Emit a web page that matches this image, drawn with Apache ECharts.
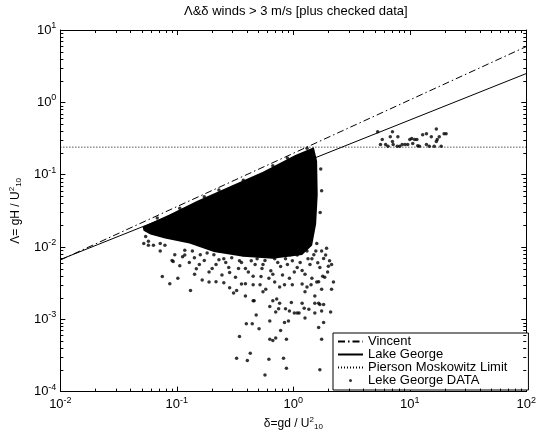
<!DOCTYPE html>
<html>
<head>
<meta charset="UTF-8">
<title>Λ&δ winds &gt; 3 m/s</title>
<script src="https://cdn.jsdelivr.net/npm/echarts@6/dist/echarts.min.js"></script>
<style>
  html, body { margin: 0; padding: 0; background: #fff; }
  #container { width: 539px; height: 436px; }
</style>
</head>
<body>
<div id="container"></div>
<script>
// reference lines (delta, lambda)
var vincentLine = [[0.01, 0.0066], [100, 5.9]];
var lakeGeorgeLine = [[0.01, 0.0067], [100, 2.5]];
var pmLimit = [[0.01, 0.24], [100, 0.24]];

// outline of the solid black part of the data cloud
var cloudCore = [
  [0.0508, 0.019], [0.0873, 0.0284], [0.150, 0.0437], [0.290, 0.0695], [0.549, 0.110],
  [1.04, 0.187], [1.50, 0.239], [1.60, 0.155], [1.62, 0.0526], [1.57, 0.0208],
  [1.45, 0.0105], [1.19, 0.00776], [0.667, 0.00686], [0.372, 0.0073], [0.208, 0.0085],
  [0.1285, 0.0112], [0.0792, 0.0131], [0.0593, 0.0149], [0.0518, 0.0168]
];

// scattered points under the cloud
var lowPoints = [
  [0.075, 0.0039], [0.087, 0.0031], [0.093, 0.0063], [0.102, 0.0037], [0.131, 0.0025],
  [0.165, 0.0035], [0.307, 0.0023], [0.388, 0.0021], [0.452, 0.0018], [0.48, 0.00115],
  [0.395, 0.00087], [0.444, 0.00087], [0.508, 0.00074], [0.345, 0.00058], [0.628, 0.00095],
  [0.628, 0.00053], [0.667, 0.00051], [0.706, 0.00055], [0.873, 0.00053], [0.84, 0.0009],
  [0.908, 0.00095], [0.778, 0.0007], [0.628, 0.0015], [0.667, 0.0018], [0.72, 0.0019],
  [0.748, 0.0014], [0.706, 0.00126], [0.962, 0.0017], [0.926, 0.0013], [1.02, 0.00122],
  [1.08, 0.00122], [1.19, 0.00166], [1.36, 0.00138], [1.26, 0.00104], [1.53, 0.00166],
  [1.65, 0.00166], [1.82, 0.0016], [1.53, 0.00122], [1.75, 0.0013], [2.09, 0.00126],
  [1.82, 0.0009], [1.65, 0.00077], [1.75, 0.00053], [0.326, 0.00029], [0.403, 0.00027],
  [0.427, 0.00034], [0.617, 0.00028], [0.824, 0.00029], [0.873, 0.00021], [0.571, 0.00017],
  [1.69, 0.0002], [1.53, 0.0021], [1.26, 0.0024], [1.31, 0.0028], [1.42, 0.003],
  [1.65, 0.0033], [1.86, 0.0038], [2.0, 0.0054], [2.13, 0.0026], [1.75, 0.0026],
  [0.98, 0.003], [0.84, 0.003], [0.763, 0.0028], [0.518, 0.003], [0.58, 0.0026],
  [0.452, 0.003], [0.388, 0.0031], [0.326, 0.0025], [0.253, 0.0032], [0.217, 0.0033],
  [0.461, 0.0018], [0.857, 0.0014], [0.763, 0.00166], [1.12, 0.00122], [1.24, 0.00142],
  [1.69, 0.0016]
];

// ragged edges of the cloud
var edgePoints = [
  [0.054, 0.014], [0.057, 0.012], [0.063, 0.0106], [0.072, 0.0112], [0.091, 0.0065],
  [0.096, 0.0078], [0.072, 0.0088], [0.052, 0.0112], [0.057, 0.0106], [0.117, 0.009],
  [0.079, 0.0106], [0.106, 0.0055],
  [0.128, 0.0061], [0.147, 0.005], [0.172, 0.0065], [0.189, 0.0045], [0.217, 0.0057],
  [0.244, 0.0041], [0.279, 0.0052], [0.319, 0.0038], [0.359, 0.0061], [0.411, 0.0045],
  [0.47, 0.0057], [0.528, 0.0039], [0.571, 0.0065], [0.641, 0.0047], [0.735, 0.0061],
  [0.808, 0.0041], [0.89, 0.0057], [1.02, 0.0045], [1.145, 0.0061], [1.26, 0.0042],
  [1.39, 0.0057], [1.5, 0.0078], [1.69, 0.0052], [1.82, 0.0069], [1.97, 0.0045],
  [2.13, 0.0057], [0.159, 0.0078], [0.296, 0.0071], [0.498, 0.0078], [0.944, 0.0078],
  [1.31, 0.0088], [1.59, 0.0112], [1.75, 0.0088], [1.93, 0.0096], [0.112, 0.0073],
  [0.208, 0.0078], [0.372, 0.0078], [0.1415, 0.0071], [0.2298, 0.00665], [0.3385, 0.00504],
  [0.549, 0.0057], [0.857, 0.00686], [1.08, 0.0052], [1.444, 0.00686], [0.4354, 0.00645],
  [0.667, 0.0042], [0.263, 0.0061],
  [1.72, 0.12], [1.75, 0.06], [1.70, 0.03],
  [0.117, 0.00776], [0.136, 0.00879], [0.156, 0.0057], [0.182, 0.00826], [0.201, 0.00504],
  [0.23, 0.00879], [0.253, 0.00686], [0.284, 0.00445], [0.307, 0.00826], [0.345, 0.00645],
  [0.388, 0.00504], [0.419, 0.00826], [0.452, 0.00394], [0.489, 0.00686], [0.538, 0.00504],
  [0.593, 0.00776], [0.617, 0.0037], [0.692, 0.00686], [0.778, 0.00536], [0.84, 0.00776],
  [0.926, 0.0037], [0.981, 0.00645], [1.08, 0.00776], [1.19, 0.00474], [1.337, 0.00686],
  [1.444, 0.0037], [1.561, 0.00879], [1.622, 0.00607], [1.787, 0.00394], [1.894, 0.00776],
  [2.046, 0.00645], [2.211, 0.00327], [0.189, 0.00327], [0.359, 0.00307], [0.692, 0.00327],
  [1.19, 0.00307], [1.59, 0.00327], [0.142, 0.00419], [0.284, 0.00272], [0.549, 0.0024],
  [0.0679, 0.0251], [0.106, 0.0342], [0.172, 0.0495], [0.2298, 0.0614], [0.3724, 0.0836],
  [0.667, 0.1328], [0.890, 0.170], [1.311, 0.2317]
];

// the group at large delta near the PM limit
var rightCluster = [
  [5.8, 0.306], [6.2, 0.262], [6.8, 0.335], [7.1, 0.287], [7.2, 0.262], [7.9, 0.335],
  [8.6, 0.262], [9.1, 0.262], [9.6, 0.262], [10.4, 0.315], [10.6, 0.27], [11.0, 0.306],
  [12.1, 0.246], [12.9, 0.357], [13.9, 0.368], [13.9, 0.262], [14.7, 0.246], [15.3, 0.335],
  [16.2, 0.246], [16.9, 0.429], [17.2, 0.306], [17.9, 0.335], [18.6, 0.246], [19.7, 0.368],
  [6.5, 0.246], [7.8, 0.246], [20.5, 0.368], [5.3, 0.391], [7.1, 0.391], [10.0, 0.306],
  [11.5, 0.306], [16.9, 0.287], [5.6, 0.262], [8.2, 0.246], [11.7, 0.25]
];

var xRange = [0.01, 100];
var yRange = [0.0001, 10];

// minor ticks 2..9 in every decade
function minorTicks(lo, hi) {
  var out = [];
  for (var d = lo; d < hi * 0.999; d *= 10) {
    for (var k = 2; k <= 9; k++) out.push(d * k);
  }
  return out;
}
var minorX = minorTicks(xRange[0], xRange[1]);
var minorY = minorTicks(yRange[0], yRange[1]);

var scatterPts = lowPoints.concat(edgePoints, rightCluster);

var font = 'Liberation Sans, Arial, Helvetica, sans-serif';
var richLab = {
  b: { fontSize: 13, fontFamily: font, color: '#000' },
  s: { fontSize: 9, fontFamily: font, color: '#000', padding: [0, 0, 9, 0] }
};
function expLabel(v) {
  return '{b|10}{s|' + Math.round(Math.log10(v)) + '}';
}
var nameRich = {
  m: { fontSize: 12, fontFamily: font, color: '#000' },
  s: { fontSize: 8, fontFamily: font, color: '#000', padding: [0, 0, 8, 0] },
  d: { fontSize: 8, fontFamily: font, color: '#000', padding: [6, 0, 0, 0] }
};

function logAxis(pos, range, withLabel, extra) {
  var ax = {
    type: 'log', logBase: 10, min: range[0], max: range[1], position: pos,
    axisLine: { show: true, lineStyle: { color: '#000', width: 1 } },
    axisTick: { show: true, inside: true, length: 5, lineStyle: { color: '#000' } },
    axisLabel: withLabel ? { formatter: expLabel, rich: richLab, margin: 4 } : { show: false },
    splitLine: { show: false }
  };
  for (var k in extra) ax[k] = extra[k];
  return ax;
}

// small inward ticks, placed through the axes' own scales
function px(v) { return Math.round(v) + 0.5; }
function tickLine(x1, y1, x2, y2) {
  return { type: 'line', shape: { x1: x1, y1: y1, x2: x2, y2: y2 }, style: { stroke: '#000', lineWidth: 1 } };
}
function renderMinorX(params, api) {
  var v = api.value(0);
  var b = api.coord([v, yRange[0]]), t = api.coord([v, yRange[1]]);
  var x = px(b[0]);
  return { type: 'group', children: [tickLine(x, b[1], x, b[1] - 3), tickLine(x, t[1], x, t[1] + 3)] };
}
function renderMinorY(params, api) {
  var v = api.value(1);
  var l = api.coord([xRange[0], v]), r = api.coord([xRange[1], v]);
  var y = px(l[1]);
  return { type: 'group', children: [tickLine(l[0], y, l[0] + 3, y), tickLine(r[0], y, r[0] - 3, y)] };
}

var myChart = echarts.init(document.getElementById('container'));
var option = {
  backgroundColor: '#fff',
  animation: false,
  title: {
    text: 'Λ&δ winds > 3 m/s [plus checked data]',
    left: 184, top: 5, padding: 0,
    textStyle: { fontSize: 13, fontWeight: 'normal', fontFamily: font, color: '#000' }
  },
  grid: { left: 53, right: 10, top: 30, bottom: 33 },
  xAxis: [
    logAxis('bottom', xRange, true, {
      name: '{m|δ=gd / U}{s|2}{d|10}', nameLocation: 'middle', nameGap: 22,
      nameTextStyle: { rich: nameRich }
    }),
    logAxis('top', xRange, false, {})
  ],
  yAxis: [
    logAxis('left', yRange, true, {
      name: '{m|Λ= gH / U}{s|2}{d|10}', nameLocation: 'middle', nameGap: 34, nameRotate: 90,
      nameTextStyle: { rich: nameRich }
    }),
    logAxis('right', yRange, false, {})
  ],
  legend: {
    orient: 'vertical', left: 333, top: 333,
    data: [
      { name: 'Vincent', itemStyle: { opacity: 0 } },
      { name: 'Lake George', itemStyle: { opacity: 0 } },
      { name: 'Pierson Moskowitz Limit', itemStyle: { opacity: 0 } },
      { name: 'Leke George DATA', icon: 'path://M0 0M25 0M25 12M0 12M11 6a1.5 1.5 0 1 0 3 0a1.5 1.5 0 1 0 -3 0z' }
    ],
    itemWidth: 25, itemHeight: 12, itemGap: 0,
    padding: [2, 21, 3, 4],
    borderColor: '#000', borderWidth: 1, backgroundColor: '#fff',
    textStyle: { fontSize: 13, lineHeight: 13, fontFamily: font, color: '#000' }
  },
  series: [
    {
      name: 'Vincent', type: 'line', data: vincentLine, symbol: 'none', z: 4,
      itemStyle: { color: '#000' },
      lineStyle: { color: '#000', width: 1, type: [7, 3, 1.5, 3] }
    },
    {
      name: 'Lake George', type: 'line', data: lakeGeorgeLine, symbol: 'none', z: 4,
      itemStyle: { color: '#000' },
      lineStyle: { color: '#000', width: 1, type: 'solid' }
    },
    {
      name: 'Pierson Moskowitz Limit', type: 'line', data: pmLimit, symbol: 'none', z: 4,
      itemStyle: { color: '#000' },
      lineStyle: { color: '#000', width: 1, type: [1, 2] }
    },
    {
      name: 'Leke George DATA', type: 'scatter', data: scatterPts, symbolSize: 3.5,
      itemStyle: { color: '#000' }
    },
    {
      type: 'custom', data: cloudCore, silent: true,
      renderItem: function (params, api) {
        if (params.dataIndex !== 0) return null;
        var pts = cloudCore.map(function (p) { return api.coord(p); });
        return { type: 'polygon', shape: { points: pts }, style: { fill: '#000' } };
      }
    },
    {
      type: 'custom', silent: true, clip: false, z: 5,
      data: minorX.map(function (v) { return [v, 1]; }),
      renderItem: renderMinorX
    },
    {
      type: 'custom', silent: true, clip: false, z: 5,
      data: minorY.map(function (v) { return [1, v]; }),
      renderItem: renderMinorY
    }
  ]
};
myChart.setOption(option);
</script>
</body>
</html>
